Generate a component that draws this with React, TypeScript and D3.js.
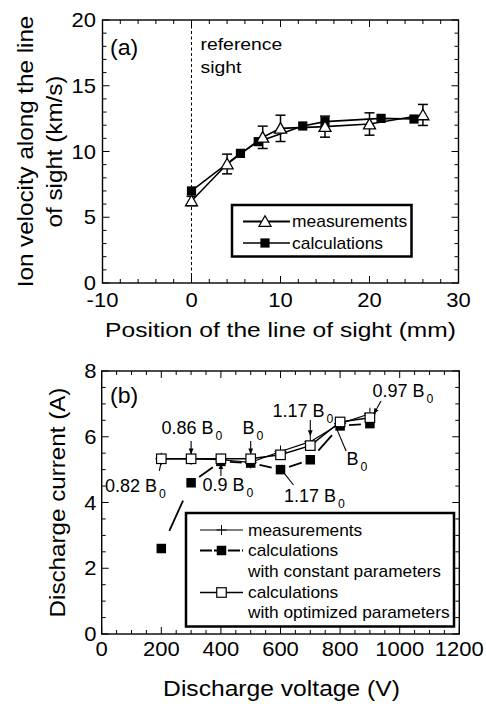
import React from "react";
import * as d3 from "d3";

// ---------- Panel (a) data ----------
const measPos = [0, 4, 8, 10, 15, 20, 26];
const measVel = [6.24, 9.05, 11.08, 11.76, 11.89, 12.09, 12.78];
const measErr = [0.35, 0.75, 0.85, 1.0, 0.8, 0.85, 0.8];
const calcPos = [0, 5.5, 7.5, 12.5, 15, 21.3, 25];
const calcVel = [7.0, 9.86, 10.75, 11.94, 12.27, 12.52, 12.47];
const aXTicks = [-10, 0, 10, 20, 30];
const aYTicks = [0, 5, 10, 15, 20];

// ---------- Panel (b) data ----------
const voltages = [200, 300, 400, 500, 600, 700, 800, 900];
const measCurrent = [5.33, 5.33, 5.3, 5.22, 5.55, 5.85, 6.4, 6.7];
const constCurrent = [2.6, 4.6, 5.25, 5.2, 5.0, 5.3, 6.33, 6.4];
const optCurrent = [5.33, 5.33, 5.33, 5.33, 5.45, 5.73, 6.45, 6.58];
const bXTicks = [0, 200, 400, 600, 800, 1000, 1200];
const bYTicks = [0, 2, 4, 6, 8];
const annotations = ["0.82 B", "0.86 B", "0.9 B", "B", "1.17 B", "1.17 B", "B", "0.97 B"];

const FONT = "Liberation Sans, Arial, Helvetica, sans-serif";

function T({ x, y, size, sx = 1.12, anchor = "start", rotate = 0, children }: any) {
  return (
    <text
      transform={`translate(${x},${y}) rotate(${rotate}) scale(${sx},1)`}
      fontSize={size}
      textAnchor={anchor}
      fontFamily={FONT}
      fill="#000"
    >
      {children}
    </text>
  );
}

function Sub({ x, y, text, size = 18 }: any) {
  return (
    <text x={x} y={y} fontSize={size} fontFamily={FONT} fill="#000">
      {text}
      <tspan fontSize={size * 0.68} dx={2} dy={size * 0.32}>0</tspan>
    </text>
  );
}

function Frame({ x, y, major, minor }: any) {
  const [x0, x1] = x.range();
  const [y0, y1] = y.range();
  const els: any[] = [];
  const mk = (v: number, len: number, key: string) => {
    const px = x(v);
    els.push(<line key={key + "b"} x1={px} x2={px} y1={y0} y2={y0 - len} stroke="#000" strokeWidth={1} />);
    els.push(<line key={key + "t"} x1={px} x2={px} y1={y1} y2={y1 + len} stroke="#000" strokeWidth={1} />);
  };
  const mky = (v: number, len: number, key: string) => {
    const py = y(v);
    els.push(<line key={key + "l"} x1={x0} x2={x0 + len} y1={py} y2={py} stroke="#000" strokeWidth={1} />);
    els.push(<line key={key + "r"} x1={x1} x2={x1 - len} y1={py} y2={py} stroke="#000" strokeWidth={1} />);
  };
  major.x.forEach((v: number, i: number) => mk(v, 7, "xM" + i));
  minor.x.forEach((v: number, i: number) => mk(v, 4, "xm" + i));
  major.y.forEach((v: number, i: number) => mky(v, 7, "yM" + i));
  minor.y.forEach((v: number, i: number) => mky(v, 4, "ym" + i));
  return (
    <g>
      {els}
      <rect x={x0} y={y1} width={x1 - x0} height={y0 - y1} fill="none" stroke="#000" strokeWidth={1.4} />
    </g>
  );
}

const tri = (cx: number, cy: number, s = 6) =>
  `M${cx},${cy - s * 0.95}L${cx + s},${cy + s * 0.8}L${cx - s},${cy + s * 0.8}Z`;

export default function App() {
  // Panel (a)
  const xa = d3.scaleLinear().domain([-10, 30]).range([102.5, 458.5]);
  const ya = d3.scaleLinear().domain([0, 20]).range([283, 20]);
  const lineA = d3.line<number>();
  const measPts: [number, number][] = measPos.map((p, i) => [xa(p), ya(measVel[i])]);
  const calcPts: [number, number][] = calcPos.map((p, i) => [xa(p), ya(calcVel[i])]);

  // Panel (b)
  const xb = d3.scaleLinear().domain([0, 1200]).range([101.7, 459.3]);
  const yb = d3.scaleLinear().domain([0, 8]).range([634, 371]);
  const mPts: [number, number][] = voltages.map((v, i) => [xb(v), yb(measCurrent[i])]);
  const cPts: [number, number][] = voltages.map((v, i) => [xb(v), yb(constCurrent[i])]);
  const oPts: [number, number][] = voltages.map((v, i) => [xb(v), yb(optCurrent[i])]);

  const aMinorX = d3.range(-10, 30.01, 2).filter((v) => v % 10 !== 0);
  const aMinorY = d3.range(0, 20.01, 1).filter((v) => v % 5 !== 0);
  const bMinorX = d3.range(0, 1200.1, 50).filter((v) => v % 200 !== 0);
  const bMinorY = d3.range(0, 8.01, 0.5).filter((v) => v % 2 !== 0);

  const sq = 9.5;
  const plus = (cx: number, cy: number, key: string, s = 6) => (
    <g key={key} stroke="#000" strokeWidth={1}>
      <line x1={cx - s} x2={cx + s} y1={cy} y2={cy} />
      <line x1={cx} x2={cx} y1={cy - s} y2={cy + s} />
    </g>
  );

  // dashed segments: one centred dash between consecutive markers
  const dashSegs = cPts.slice(1).map((p, i) => {
    const a = cPts[i];
    const L = Math.hypot(p[0] - a[0], p[1] - a[1]);
    const gap = Math.max(9, L * 0.27);
    const dash = Math.max(4, L - 2 * gap);
    return (
      <path
        key={"ds" + i}
        d={lineA([a, p]) || ""}
        fill="none"
        stroke="#000"
        strokeWidth={1.8}
        strokeDasharray={`${dash},${L}`}
        strokeDashoffset={-gap}
      />
    );
  });

  const ann = [
    { i: 0, tx: 105, ty: 492, line: [[xb(200) - 0.5, yb(optCurrent[0]) + 5], [xb(200) - 2, yb(optCurrent[0]) + 12]], arrow: false },
    { i: 1, tx: 161.5, ty: 434, line: [[xb(300), 441], [xb(300), yb(optCurrent[1]) - 5]], arrow: true },
    { i: 2, tx: 202.5, ty: 491, line: [[xb(400), 476], [xb(400), yb(optCurrent[2]) + 5]], arrow: true },
    { i: 3, tx: 242.5, ty: 434, line: [[xb(500), 441], [xb(500), yb(optCurrent[3]) - 5]], arrow: true },
    { i: 4, tx: 284, ty: 502, line: [[xb(600) + 4, yb(constCurrent[4]) + 4], [xb(600) + 13, 485]], arrow: false },
    { i: 5, tx: 272.5, ty: 417, line: [[xb(700), 420], [xb(700), yb(measCurrent[5]) - 6]], arrow: true },
    { i: 6, tx: 346.5, ty: 465, line: [[xb(800) - 3, yb(constCurrent[6]) + 4], [xb(800) + 6, 451]], arrow: false },
    { i: 7, tx: 372.5, ty: 397, line: [[381, 401], [xb(900) + 4, yb(optCurrent[7]) - 4]], arrow: true },
  ];

  return (
    <svg width={486} height={704} style={{ position: "absolute", left: 0, top: 0, background: "#fff" }}>
      <defs>
        <marker id="ah" viewBox="0 0 10 10" refX="9" refY="5" markerWidth="6" markerHeight="6" orient="auto-start-reverse" markerUnits="userSpaceOnUse">
          <path d="M0,1L10,5L0,9Z" fill="#000" />
        </marker>
      </defs>
      <rect x={0} y={0} width={486} height={704} fill="#fff" />

      {/* ================= Panel (a) ================= */}
      <line x1={xa(0)} x2={xa(0)} y1={ya(20)} y2={ya(0)} stroke="#000" strokeWidth={1} strokeDasharray="3,2.5" />
      <Frame x={xa} y={ya} major={{ x: aXTicks, y: aYTicks }} minor={{ x: aMinorX, y: aMinorY }} />
      {aXTicks.map((t) => (
        <T key={"ax" + t} x={xa(t)} y={307} size={20} sx={1.1} anchor="middle">{t}</T>
      ))}
      {aYTicks.map((t) => (
        <T key={"ay" + t} x={96} y={ya(t) + 7} size={20} sx={1.1} anchor="end">{t}</T>
      ))}
      <T x={xa(10)} y={337} size={21} sx={1.17} anchor="middle">Position of the line of sight (mm)</T>
      <T x={33} y={151.5} size={22} sx={1.1} anchor="middle" rotate={-90}>Ion velocity along the line</T>
      <T x={62} y={151.5} size={22} sx={1.1} anchor="middle" rotate={-90}>of sight (km/s)</T>
      <T x={110} y={55} size={22} sx={1.05}>(a)</T>
      <T x={200.5} y={50} size={17} sx={1.14}>reference</T>
      <T x={200.5} y={73} size={17} sx={1.14}>sight</T>

      <path d={lineA(calcPts) || ""} fill="none" stroke="#000" strokeWidth={1.6} />
      <path d={lineA(measPts) || ""} fill="none" stroke="#000" strokeWidth={1.6} />
      {measPos.map((p, i) => {
        const cx = xa(p);
        const top = ya(measVel[i] + measErr[i]);
        const bot = ya(measVel[i] - measErr[i]);
        return (
          <g key={"eb" + i} stroke="#000" strokeWidth={1.5}>
            <line x1={cx} x2={cx} y1={top} y2={bot} />
            <line x1={cx - 5} x2={cx + 5} y1={top} y2={top} />
            <line x1={cx - 5} x2={cx + 5} y1={bot} y2={bot} />
          </g>
        );
      })}
      {calcPts.map(([cx, cy], i) => (
        <rect key={"cs" + i} x={cx - 4.6} y={cy - 4.6} width={9.2} height={9.2} fill="#000" />
      ))}
      {measPts.map(([cx, cy], i) => (
        <path key={"mt" + i} d={tri(cx, cy)} fill="#fff" stroke="#000" strokeWidth={1.3} />
      ))}

      {/* legend (a) */}
      <rect x={232} y={205} width={179.5} height={51.5} fill="#fff" stroke="#000" strokeWidth={2.5} />
      <line x1={243} x2={290} y1={221.5} y2={221.5} stroke="#000" strokeWidth={2} />
      <path d={tri(265, 221.5)} fill="#fff" stroke="#000" strokeWidth={1.3} />
      <T x={292} y={227} size={16} sx={1.09}>measurements</T>
      <line x1={243} x2={290} y1={243} y2={243} stroke="#000" strokeWidth={1.5} />
      <rect x={265 - 4.6} y={243 - 4.6} width={9.2} height={9.2} fill="#000" />
      <T x={292} y={248.5} size={16} sx={1.09}>calculations</T>

      {/* ================= Panel (b) ================= */}
      <Frame x={xb} y={yb} major={{ x: bXTicks, y: bYTicks }} minor={{ x: bMinorX, y: bMinorY }} />
      {bXTicks.map((t) => (
        <T key={"bx" + t} x={xb(t)} y={656} size={20} sx={1.1} anchor="middle">{t}</T>
      ))}
      {bYTicks.map((t) => (
        <T key={"by" + t} x={96.5} y={yb(t) + 7} size={20} sx={1.1} anchor="end">{t}</T>
      ))}
      <T x={xb(600) + 1} y={696} size={22} sx={1.12} anchor="middle">Discharge voltage (V)</T>
      <T x={65} y={502.5} size={22} sx={1.1} anchor="middle" rotate={-90}>Discharge current (A)</T>
      <T x={110} y={403} size={22} sx={1.05}>(b)</T>

      {/* measurements */}
      <path d={lineA(mPts) || ""} fill="none" stroke="#000" strokeWidth={1.2} />
      {mPts.map(([cx, cy], i) => plus(cx, cy, "mp" + i))}
      {/* constant parameters */}
      {dashSegs}
      {cPts.map(([cx, cy], i) => (
        <rect key={"cf" + i} x={cx - sq / 2} y={cy - sq / 2} width={sq} height={sq} fill="#000" />
      ))}
      {/* optimized parameters */}
      <path d={lineA(oPts) || ""} fill="none" stroke="#000" strokeWidth={1.5} />
      {oPts.map(([cx, cy], i) => (
        <rect key={"oo" + i} x={cx - sq / 2} y={cy - sq / 2} width={sq} height={sq} fill="#fff" stroke="#000" strokeWidth={1.2} />
      ))}

      {/* annotations */}
      {ann.map((a, k) => (
        <g key={"an" + k}>
          <line
            x1={a.line[0][0]}
            y1={a.line[0][1]}
            x2={a.line[1][0]}
            y2={a.line[1][1]}
            stroke="#000"
            strokeWidth={1.1}
            markerEnd={a.arrow ? "url(#ah)" : undefined}
          />
          <Sub x={a.tx} y={a.ty} text={annotations[a.i]} />
        </g>
      ))}

      {/* legend (b) */}
      <rect x={186} y={513} width={268} height={113.5} fill="#fff" stroke="#000" strokeWidth={2.5} />
      <line x1={200} x2={243} y1={530} y2={530} stroke="#000" strokeWidth={1.2} />
      {plus(221.5, 530, "lp", 5)}
      <T x={248} y={535.5} size={16} sx={1.08}>measurements</T>
      <line x1={200} x2={243} y1={550.5} y2={550.5} stroke="#000" strokeWidth={1.8} strokeDasharray="12,2" />
      <rect x={221.5 - sq / 2} y={550.5 - sq / 2} width={sq} height={sq} fill="#000" />
      <T x={248} y={556} size={16} sx={1.08}>calculations</T>
      <T x={248} y={577} size={16} sx={1.08}>with constant parameters</T>
      <line x1={200} x2={243} y1={592.5} y2={592.5} stroke="#000" strokeWidth={1.3} />
      <rect x={221.5 - sq / 2} y={592.5 - sq / 2} width={sq} height={sq} fill="#fff" stroke="#000" strokeWidth={1.2} />
      <T x={248} y={598} size={16} sx={1.08}>calculations</T>
      <T x={248} y={618} size={16} sx={1.08}>with optimized parameters</T>
    </svg>
  );
}
